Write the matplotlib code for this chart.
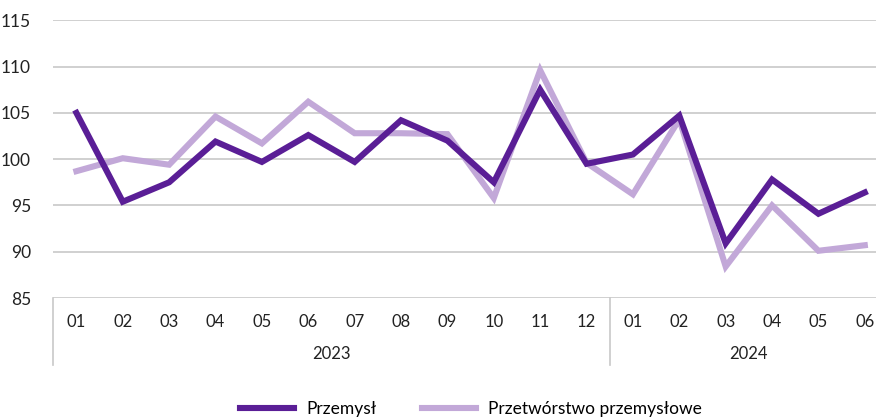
import matplotlib.pyplot as plt
import matplotlib.transforms as mtransforms

months = ["01", "02", "03", "04", "05", "06", "07", "08", "09", "10", "11", "12",
          "01", "02", "03", "04", "05", "06"]
years = ["2023", "2024"]
year_lengths = [12, 6]

przemysl = [105.0, 95.4, 97.5, 101.9, 99.7, 102.6, 99.7, 104.2, 102.0, 97.5, 107.5, 99.5,
            100.5, 104.7, 90.9, 97.8, 94.1, 96.4]
przetworstwo = [98.7, 100.1, 99.4, 104.6, 101.7, 106.2, 102.8, 102.8, 102.7, 95.8, 109.6, 99.6,
                96.2, 104.3, 88.4, 95.0, 90.1, 90.7]

dark = "#5a1e96"
light = "#c2a8d8"
grid_c = "#c8c8c8"
txt = "#222222"

plt.rcParams["font.family"] = ["Lato", "DejaVu Sans"]

fig = plt.figure(figsize=(8.76, 4.17), dpi=100)
ax = fig.add_axes([53.2 / 876, (417 - 298) / 417, (888 - 53.2) / 876, (298 - 20.3) / 417])

x = list(range(len(months)))
ax.plot(x, przemysl, color=dark, lw=4.4, label="Przemysł", solid_joinstyle="miter", zorder=3)
ax.plot(x, przetworstwo, color=light, lw=4.4, label="Przetwórstwo przemysłowe",
        solid_joinstyle="miter", zorder=2)

ax.set_xlim(-0.5, len(months) - 0.5)
ax.set_ylim(85, 115)
ax.set_yticks(range(85, 116, 5))
ax.yaxis.grid(True, color=grid_c, lw=1.2)
ax.set_axisbelow(True)
for s in ax.spines.values():
    s.set_visible(False)
ax.tick_params(axis="y", length=0, labelsize=12.5, labelcolor=txt, pad=16)
ax.set_xticks([])

# two-level category axis
trans = mtransforms.blended_transform_factory(ax.transData, ax.transAxes)
for i, m in enumerate(x):
    ax.text(m, -0.085, months[i], transform=trans, ha="center", va="center",
            fontsize=12, color=txt)
start = 0
for y, n in zip(years, year_lengths):
    ax.text(start + (n - 1) / 2, -0.2, y, transform=trans, ha="center", va="center",
            fontsize=12, color=txt)
    ax.plot([start - 0.5, start - 0.5], [0, -0.24], transform=trans, color=grid_c,
            lw=1.2, clip_on=False)
    start += n

fig.legend(loc="center", bbox_to_anchor=(471 / 876, 1 - 409 / 417), ncol=2, frameon=False,
           fontsize=12.5, handlelength=3.1, columnspacing=2.6, handletextpad=0.7)

fig.savefig("out.png", dpi=100)
